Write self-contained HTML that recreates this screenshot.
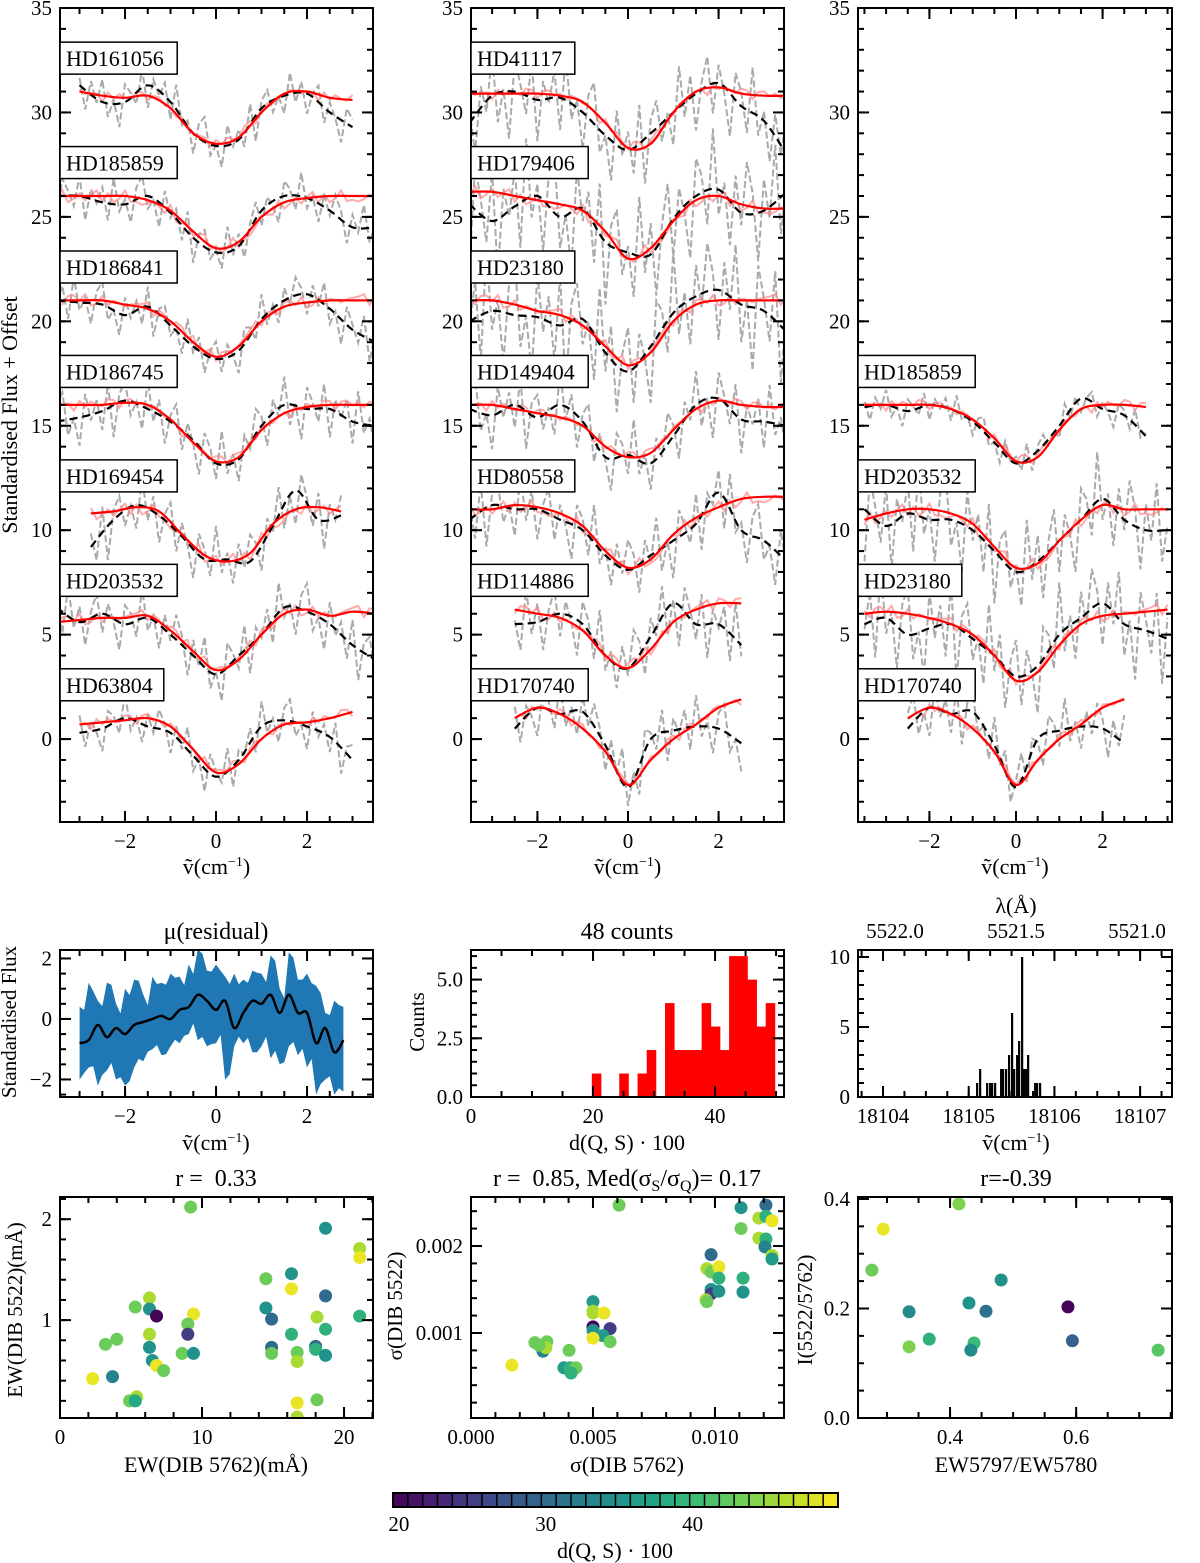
<!DOCTYPE html>
<html><head><meta charset="utf-8"><style>
html,body{margin:0;padding:0;background:#fff;}
svg{display:block;font-family:"Liberation Serif",serif;}
</style></head><body>
<svg id="fig" width="1200" height="1563" viewBox="0 0 1200 1563" xmlns="http://www.w3.org/2000/svg"></svg>
<script>
// ---------- DATA ----------
const noise=[0.3,-0.8,0.5,-0.2,0.9,-0.6,0.1,-1,0.7,0.2,-0.4,0.8,-0.9,0.4,-0.1,0.6,-0.7,1,-0.3,0.2,-0.8,0.5,0.9,-0.5,0,-0.9,0.7,-0.2,0.4,-0.6,0.8,-1,0.3,0.6,-0.4,0.1,-0.7,0.9,-0.3,0.5,-0.8,0.2,0.7,-0.6,0.4,-0.1,-0.9,0.6,0.3,-0.5,1,-0.4,0.2,-0.7,0.5,-0.2,0.8];
const starNames1=["HD161056","HD185859","HD186841","HD186745","HD169454","HD203532","HD63804"];
const starStart1=[-3,-3.5,-3.5,-3.5,-2.75,-3.5,-3];
const red1=[[31,30.8,30.7,30.8,30.2,29,28.5,28.8,30,30.9,31,30.7,30.6],
[26,26,26,26,25.8,25.3,24.3,23.5,23.8,25,25.7,25.9,26,26,26],
[21,21,21,20.8,20.6,20,19,18.3,18.8,20,20.7,20.9,21,21,21],
[16,16,16,16.1,16,15.3,14.2,13.3,13.5,14.8,15.6,15.9,16,16,16],
[10.8,10.9,11.1,10.9,9.8,8.8,8.5,8.9,10.3,11,11.1,10.9],
[5.6,5.7,5.8,5.8,5.9,5.2,4.2,3.3,3.8,5,6,6.2,5.9,6.1,6],
[0.7,0.8,0.9,1,0.6,-0.5,-1.6,-1.2,0,0.7,0.8,1,1.3]];
const black1=[[31.3,30.5,30.5,31.3,30.5,29,28.4,28.7,30.2,30.8,30.9,30,29.3],
[26,26,25.7,25.6,26,25.2,24,23.3,23.6,25.3,26,25.9,25.3,24.5,24.5],
[21,20.9,20.8,20.3,20.7,19.8,18.8,18.2,18.6,20.1,21,21.3,20.6,19.6,19],
[15.2,15.4,15.7,16.2,15.8,15.2,14.3,13.2,13.4,15,16,15.8,15.8,15.2,15],
[9.2,10.5,11.2,10.7,9.7,8.6,8.6,8.5,10.2,11.9,10.5,10.7],
[6.3,5.6,6,5.5,5.8,5,4,3.1,4,5,6.3,6.1,5.5,4.5,3.8],
[0.3,0.5,1,0.6,0.3,-0.8,-1.8,-1,0.6,0.9,0.6,0.1,-1]];
const starNames2=["HD41117","HD179406","HD23180","HD149404","HD80558","HD114886","HD170740"];
const starStart2=[-3.5,-3.5,-3.5,-3.5,-3.5,-2.5,-2.5];
const red2=[[30.9,30.9,30.9,30.9,30.8,30.5,29.5,28.3,28.5,30,31,31.2,30.9,30.8,30.8],
[26.2,26.2,26,25.8,25.6,25.3,24.3,23,23.5,24.8,25.8,26,25.6,25.4,25.4],
[21,21,20.8,20.5,20.3,19.8,18.8,17.9,18.5,20,20.8,21,21,21,21],
[16,16,15.8,15.6,15.4,15,14,13.5,13.7,14.8,15.8,16.2,16,15.9,15.9],
[11,11,11.2,11.1,10.8,10.2,9,8.2,8.6,9.8,10.6,11.1,11.5,11.6,11.6],
[6.2,6,5.8,5.2,4,3.4,4.3,5.6,6.2,6.5,6.5],
[1,1.5,1.2,0.5,-0.6,-2.2,-1,0,0.7,1.5,1.9]];
const black2=[[29.5,30.8,31,30.6,30.7,30,28.9,28.2,29,30,30.9,31.4,30.3,29.6,28],
[25.6,24.8,25.5,26,25,25.4,23.8,23.3,23.2,24.9,26,26.3,25.2,25.3,26.2],
[20,20.5,20.3,20.2,19.8,20.1,18.5,17.6,18.8,20.4,21.2,21.5,20.8,20.5,19.5],
[15.8,15.5,16,15.4,16,15.2,13.5,13.6,13.2,14.5,16,16.3,15.3,15.2,15],
[10.5,11.2,11,11,10.5,10,8.8,8.1,8.8,9.5,10.3,11.8,10,9.5,8.5],
[5.5,5.6,6,5.5,4,3.4,4.9,6.5,5.5,5.5,4.5],
[0.5,1.5,1.2,1.3,-0.3,-2.3,0,0.4,0.6,0.5,-0.2]];
const starNames3=["HD185859","HD203532","HD23180","HD170740"];
const starStart3=[-3.5,-3.5,-3.5,-2.5];
const red3=[[16,16,16,16,15.8,15.3,14.4,13.3,13.5,14.8,15.8,16,16,15.9],
[10.5,10.8,11,11,10.8,10.3,9.2,8.2,8.4,9.5,10.5,11.2,11,11,11],
[6,6.1,6,5.8,5.5,5,4,2.8,3.2,4.5,5.5,5.9,6,6.1,6.2],
[1,1.5,1.2,0.5,-0.6,-2.2,-1,0,0.7,1.5,1.9]];
const black3=[[15.9,16,15.7,16,15.8,15.2,14.2,13.2,13.8,15,16.3,15.8,15.5,14.5],
[11,10.2,10.8,10.5,10.5,10,9,8,8.5,9.5,10.5,11.5,10.5,10,10],
[5.5,5.8,5,5.3,5.5,4.8,4,3,3.5,5,5.8,6.5,5.5,5.2,4.8],
[0.5,1.5,1.2,1.3,-0.3,-2.3,0,0.4,0.6,0.5,-0.2]];
const grayAmp1=[1.2,1.2,1.2,1.5,1.6,1.5,1.2];
const grayAmp2=[2.2,3,3,1.8,1.8,1.8,1.5];
const grayAmp3=[0.8,2.5,2.5,1.5];
const labelY=[31.2,26.2,21.2,16.2,11.2,6.2,1.2];

const resMean=[-0.8,-0.7,-0.2,-0.6,-0.3,-0.5,-0.2,-0.1,0,0.1,0,0.3,0.4,0.8,0.6,0.3,0.6,-0.3,0.2,0.6,0.5,0.8,0.2,0.8,0.2,0.2,-0.8,-0.3,-1.1,-0.7];
const resUpper=[0.4,1.2,0.6,1.2,0.5,1.0,1.3,0.8,1.4,1.2,1.5,1.4,1.8,2.3,1.6,1.8,1.4,1.5,1.3,1.6,1.5,2.1,1.0,2.2,1.3,1.5,1.1,0.2,0.6,0.4];
const resLower=[-2.0,-1.6,-2.2,-1.7,-2.0,-2.2,-1.6,-1.4,-1.0,-1.2,-0.9,-0.8,-0.5,-0.7,-0.9,-0.8,-2.0,-0.9,-0.8,-1.1,-0.9,-1.3,-1.5,-0.9,-1.2,-1.6,-2.5,-2.0,-2.5,-2.4];
const resStart=-3, resStep=0.2;

const histEdges=[19.8,21.3,22.8,24.3,25.8,27.3,28.8,30.3,31.8,33.3,34.8,36.3,37.8,39.3,40.8,42.3,43.8,45.3,46.8,48.3];
const histCounts=[1,0,0,1,0,1,2,0,4,2,2,2,4,3,2,6,6,5,3,4];
const histWidth=1.5;

const wnOffsets=[1.097,1.132,1.214,1.249,1.272,1.307,1.377,1.400,1.435,1.470,1.505,1.529,1.564,1.587,1.622,1.645,1.669,1.692,1.774,1.797,1.832];
const wnCounts=[1,2,1,1,1,1,2,2,2,3,6,2,3,4,10,2,2,3,1,1,1];

const scA_x=[9.2,18.7,21.1,21.1,16.3,14.5,16.3,18.7,6.3,5.3,6.3,14.5,6.8,9.4,14.9,21.1,18.1,9.0,6.3,9.0,16.3,18.7,4.0,3.2,6.3,14.9,18.0,18.0,8.6,9.4,14.9,16.7,18.7,6.5,6.8,7.3,16.7,2.3,3.7,5.4,4.9,5.3,16.7,18.1,16.7];
const scA_y=[2.12,1.91,1.71,1.62,1.46,1.41,1.31,1.24,1.22,1.13,1.11,1.12,1.04,1.06,1.01,1.04,1.03,0.96,0.86,0.86,0.86,0.91,0.81,0.76,0.73,0.73,0.74,0.71,0.67,0.67,0.67,0.68,0.65,0.6,0.55,0.5,0.59,0.42,0.44,0.24,0.2,0.2,0.18,0.21,0.04];
const scA_c=[43,35,46,49,35,43,49,30,46,43,35,35,20,49,30,39,46,43,46,25,39,39,43,43,35,30,30,39,43,35,43,43,35,35,49,43,46,49,33,46,43,38,49,43,46];

const scB_x=[.00607,.01107,.01209,.0118,.01209,.01234,.01107,.0118,.01209,.01205,.01234,.01234,.00984,.00967,.00984,.01016,.01016,.01115,.00984,.00984,.01016,.00963,.00967,.01115,.005,.005,.005,.00545,.005,.005,.0057,.00541,.005,.0057,.00262,.00311,.00295,.00307,.00279,.00402,.00381,.00406,.0043,.0041,.00168];
const scB_y=[.00247,.00244,.00247,.00232,.00234,.00229,.0022,.00209,.00208,.00199,.00189,.00185,.0019,.00174,.0017,.00176,.00163,.00163,.0015,.00145,.00148,.00138,.00136,.00147,.00136,.00125,.00123,.00123,.00107,.00103,.00105,.00097,.00094,.0009,.00089,.0009,.00079,.00083,.00086,.0008,.0006,.0006,.0006,.00054,.00063];
const scB_c=[43,35,30,46,39,49,43,46,39,33,46,36,30,46,43,49,39,39,35,25,35,46,43,35,36,46,46,49,20,35,25,36,49,43,43,43,33,46,43,43,36,39,43,39,49];

const scC_x=[.414,.294,.276,.481,.430,.457,.335,.587,.367,.335,.438,.433,.594,.730];
const scC_y=[.391,.345,.27,.252,.21,.195,.194,.203,.144,.13,.137,.124,.141,.124];
const scC_c=[44,49,43,35,35,31,34,20,39,44,40,34,29,42];

// ---------- HELPERS ----------
const NS="http://www.w3.org/2000/svg";
const svg=document.getElementById('fig');
function el(tag,attrs,parent){const e=document.createElementNS(NS,tag);for(const k in attrs)e.setAttribute(k,attrs[k]);(parent||svg).appendChild(e);return e;}
function txt(x,y,s,opt,parent){opt=opt||{};const t=el('text',{x:x,y:y,'font-size':opt.size||21,'text-anchor':opt.anchor||'middle',fill:'#000'},parent);
 if(opt.rot)t.setAttribute('transform','rotate(-90 '+x+' '+y+')');t.innerHTML=s;return t;}
const vir=[[68,1,84],[72,36,117],[65,68,135],[53,95,141],[42,120,142],[33,145,140],[34,168,132],[68,191,112],[122,209,81],[189,223,38],[253,231,37]];
function viridis(t){t=Math.max(0,Math.min(1,t));const f=t*10,i=Math.min(9,Math.floor(f)),r=f-i;const a=vir[i],b=vir[i+1];
 return 'rgb('+a.map((v,k)=>Math.round(v+(b[k]-v)*r)).join(',')+')';}
function cmap(d){return viridis((d-19.6)/(49.9-19.6));}

function panel(o){
 const g=el('g',{});
 o.sx=v=>o.x0+(v-o.xmin)/(o.xmax-o.xmin)*(o.x1-o.x0);
 o.sy=v=>o.y1-(v-o.ymin)/(o.ymax-o.ymin)*(o.y1-o.y0);
 o.g=g;
 const clip=el('clipPath',{id:'c'+o.name},g);el('rect',{x:o.x0,y:o.y0,width:o.x1-o.x0,height:o.y1-o.y0},clip);
 o.inner=el('g',{'clip-path':'url(#c'+o.name+')'},g);
 o.finish=function(){
  const ax=el('g',{},g);
  el('rect',{x:o.x0,y:o.y0,width:o.x1-o.x0,height:o.y1-o.y0,fill:'none',stroke:'#000','stroke-width':2},ax);
  const tk=(x1,y1,x2,y2)=>el('line',{x1:x1,y1:y1,x2:x2,y2:y2,stroke:'#000','stroke-width':2},ax);
  function ticks(step,len,isX,lab){
   const lo=isX?o.xmin:o.ymin,hi=isX?o.xmax:o.ymax;
   let v=Math.ceil((lo-1e-9)/step)*step;
   for(;v<=hi+1e-9;v+=step){
    if(isX){const p=o.sx(v);tk(p,o.y1,p,o.y1-len);if(!o.noTopTicks)tk(p,o.y0,p,o.y0+len);
     if(lab)txt(p,o.y1+26,o.xfmt(v),{},ax);}
    else{const p=o.sy(v);tk(o.x0,p,o.x0+len,p);tk(o.x1,p,o.x1-len,p);
     if(lab)txt(o.x0-8,p+7,o.yfmt(v),{anchor:'end'},ax);}
   }
  }
  if(o.xminor)ticks(o.xminor,6,true,false);ticks(o.xmajor,11,true,true);
  if(o.yminor)ticks(o.yminor,6,false,false);ticks(o.ymajor,11,false,true);
 };
 return o;
}
function lerpArr(arr,start,step,x){const f=(x-start)/step;const i=Math.max(0,Math.min(arr.length-2,Math.floor(f)));const r=f-i;return arr[i]+(arr[i+1]-arr[i])*r;}
function smoothPath(pts){let d='M'+pts[0][0]+','+pts[0][1];
 for(let i=0;i<pts.length-1;i++){const p0=pts[Math.max(0,i-1)],p1=pts[i],p2=pts[i+1],p3=pts[Math.min(pts.length-1,i+2)];
  const c1=[p1[0]+(p2[0]-p0[0])/6,p1[1]+(p2[1]-p0[1])/6],c2=[p2[0]-(p3[0]-p1[0])/6,p2[1]-(p3[1]-p1[1])/6];
  d+=' C'+c1[0].toFixed(1)+','+c1[1].toFixed(1)+' '+c2[0].toFixed(1)+','+c2[1].toFixed(1)+' '+p2[0].toFixed(1)+','+p2[1].toFixed(1);}
 return d;}
const fmtInt=v=>{const r=Math.round(v);return r<0?'−'+(-r):''+r;};
const vLabel='ṽ(cm<tspan dy="-8" font-size="14">−1</tspan><tspan dy="8">)</tspan>';

// ---------- TOP PANELS ----------
function spectraPanel(name,x0,x1,zero,ppu,names,starts,reds,blacks,amps,slotOffset){
 const p=panel({name:name,x0:x0,x1:x1,y0:8,y1:822,xmin:(x0-zero)/ppu,xmax:(x1-zero)/ppu,ymin:-3.97,ymax:35,
  xmajor:2,xminor:0.5,ymajor:5,yminor:1,xfmt:fmtInt,yfmt:fmtInt});
 for(let s=0;s<names.length;s++){
  const st=starts[s],r=reds[s],b=blacks[s],n=r.length,end=st+(n-1)*0.5;
  const sg=el('g',{},p.inner);
  let gp=[],lr=[];let k=0;
  for(let x=st;x<=end+1e-9;x+=0.125,k++){
   const nz=noise[(k+s*7)%noise.length];
   gp.push([p.sx(x),p.sy(lerpArr(b,st,0.5,x)+nz*amps[s])]);
   lr.push([p.sx(x),p.sy(lerpArr(r,st,0.5,x)+noise[(k*3+s)%noise.length]*0.3)]);
  }
  const gl=el('path',{d:'M'+gp.map(q=>q[0].toFixed(1)+','+q[1].toFixed(1)).join(' L'),fill:'none',stroke:'#aaa','stroke-width':2,'stroke-dasharray':'7,3'},sg);
  
  const lrl=el('path',{d:'M'+lr.map(q=>q[0].toFixed(1)+','+q[1].toFixed(1)).join(' L'),fill:'none',stroke:'#f88','stroke-opacity':0.7,'stroke-width':2},sg);
  
  const bp=b.map((v,i)=>[p.sx(st+i*0.5),p.sy(v)]);
  const bl=el('path',{d:smoothPath(bp),fill:'none',stroke:'#000','stroke-width':2.2,'stroke-dasharray':'8,5'},sg);
  
  const rp=r.map((v,i)=>[p.sx(st+i*0.5),p.sy(v)]);
  const rl=el('path',{d:smoothPath(rp),fill:'none',stroke:'#f00','stroke-width':2.2},sg);
  
 }
 p.finish();
 for(let s=0;s<names.length;s++){
  const cy=p.sy(labelY[s+slotOffset]+1.4);
  const lg=el('g',{},p.g);
  el('rect',{x:x0,y:cy-16,width:names[s].length*13.4+10,height:32,fill:'#fff',stroke:'#000','stroke-width':1.5},lg);
  txt(x0+6,cy+8,names[s],{anchor:'start',size:22},lg);
 }
 txt((x0+x1)/2,874,vLabel,{size:22},p.g);
 return p;
}
spectraPanel('spectra-panel-1',60,373,216,45.5,starNames1,starStart1,red1,black1,grayAmp1,0);
spectraPanel('spectra-panel-2',471,784,628,45.3,starNames2,starStart2,red2,black2,grayAmp2,0);
spectraPanel('spectra-panel-3',858,1172,1016,43.3,starNames3,starStart3,red3,black3,grayAmp3,3);
txt(17,415,'Standardised Flux + Offset',{rot:true,size:22});

// ---------- MEAN RESIDUAL ----------
(function(){
 const p=panel({name:'residual-panel',x0:60,x1:373,y0:950,y1:1097,xmin:-3.43,xmax:3.45,ymin:-2.58,ymax:2.28,xmajor:2,xminor:0.5,ymajor:2,yminor:0.5,xfmt:fmtInt,yfmt:fmtInt});
 const up=[],lo=[];
 for(let i=0;i<resUpper.length;i++){
  const x=resStart+i*resStep;
  up.push([p.sx(x),p.sy(resUpper[i])]);up.push([p.sx(x+resStep/2),p.sy(resUpper[i]-0.35*Math.abs(noise[i]))]);
  lo.push([p.sx(x),p.sy(resLower[i])]);lo.push([p.sx(x+resStep/2),p.sy(resLower[i]+0.35*Math.abs(noise[i+5]))]);
 }
 up.pop();lo.pop();
 const band=el('path',{d:'M'+up.concat(lo.reverse()).map(q=>q[0].toFixed(1)+','+q[1].toFixed(1)).join(' L')+'Z',fill:'#1f77b4'},p.inner);
 
 const m=resMean.map((v,i)=>[p.sx(resStart+i*resStep),p.sy(v)]);
 const ml=el('path',{d:smoothPath(m),fill:'none',stroke:'#000','stroke-width':2.5},p.inner);
 
 p.finish();
 txt(216,939,'μ(residual)',{size:24},p.g);
 txt(216,1150,vLabel,{size:22},p.g);
 txt(16,1022,'Standardised Flux',{rot:true,size:21},p.g);
})();

// ---------- HISTOGRAM ----------
(function(){
 const p=panel({name:'distance-histogram',x0:471,x1:784,y0:950,y1:1097,xmin:0,xmax:51.3,ymin:0,ymax:6.26,xmajor:20,xminor:5,ymajor:2.5,yminor:0.5,
  xfmt:v=>''+Math.round(v),yfmt:v=>v.toFixed(1)});
 for(let i=0;i<histEdges.length;i++){if(!histCounts[i])continue;
  const r=el('rect',{x:p.sx(histEdges[i]),y:p.sy(histCounts[i]),width:p.sx(histEdges[i]+histWidth)-p.sx(histEdges[i])+0.4,height:p.sy(0)-p.sy(histCounts[i]),fill:'#f00'},p.inner);
  }
 p.finish();
 txt(627,939,'48 counts',{size:24},p.g);
 txt(627,1150,'d(Q, S) · 100',{size:22},p.g);
 txt(424,1022,'Counts',{rot:true,size:21},p.g);
})();

// ---------- WAVENUMBER HISTOGRAM ----------
(function(){
 const p=panel({name:'wavenumber-histogram',x0:858,x1:1172,y0:950,y1:1097,xmin:18103.708,xmax:18107.372,ymin:0,ymax:10.5,xmajor:1,xminor:0.25,ymajor:5,yminor:1,
  xfmt:v=>''+Math.round(v),yfmt:v=>''+Math.round(v)});
 for(let i=0;i<wnOffsets.length;i++){const x=18104+wnOffsets[i];
  const r=el('rect',{x:p.sx(x)-1,y:p.sy(wnCounts[i]),width:2.2,height:p.sy(0)-p.sy(wnCounts[i]),fill:'#000'},p.inner);
  }
 p.finish();
 const topTicks=[5522.0,5521.5,5521.0],topPx=[895,1016,1137];
 topTicks.forEach((v,i)=>txt(topPx[i],938,v.toFixed(1),{size:21},p.g));
 txt(1016,913,'λ(Å)',{size:22},p.g);
 txt(1016,1150,vLabel,{size:22},p.g);
})();

// ---------- SCATTERS ----------
function scatter(o,xs,ys,cs){
 const p=panel(o);
 for(let i=0;i<xs.length;i++){
  const c=el('circle',{cx:p.sx(xs[i]),cy:p.sy(ys[i]),r:6.5,fill:cmap(cs[i])},p.inner);
  }
 p.finish();return p;
}
(function(){
 const p=scatter({name:'ew-scatter',x0:60,x1:373,y0:1197,y1:1418,xmin:0,xmax:22.04,ymin:0.03,ymax:2.22,xmajor:10,xminor:2,ymajor:1,yminor:0.2,
  xfmt:v=>''+Math.round(v),yfmt:v=>''+Math.round(v)},scA_x,scA_y,scA_c);
 txt(216,1186,'r =&#160; 0.33',{size:24},p.g);
 txt(216,1472,'EW(DIB 5762)(mÅ)',{size:22},p.g);
 txt(22,1310,'EW(DIB 5522)(mÅ)',{rot:true,size:21},p.g);
})();
(function(){
 const p=scatter({name:'sigma-scatter',x0:471,x1:784,y0:1197,y1:1418,xmin:0,xmax:0.01283,ymin:0.000023,ymax:0.002563,xmajor:0.005,xminor:0.001,ymajor:0.001,yminor:0.0002,
  xfmt:v=>v.toFixed(3),yfmt:v=>v.toFixed(3)},scB_x,scB_y,scB_c);
 txt(627,1186,'r =&#160; 0.85, Med(σ<tspan dy="5" font-size="16">S</tspan><tspan dy="-5">/σ</tspan><tspan dy="5" font-size="16">Q</tspan><tspan dy="-5">)= 0.17</tspan>',{size:24},p.g);
 txt(627,1472,'σ(DIB 5762)',{size:22},p.g);
 txt(402,1306,'σ(DIB 5522)',{rot:true,size:21},p.g);
})();
(function(){
 const p=scatter({name:'ratio-scatter',x0:858,x1:1172,y0:1197,y1:1418,xmin:0.254,xmax:0.752,ymin:0,ymax:0.4036,xmajor:0.2,xminor:0.05,ymajor:0.2,yminor:0.05,
  xfmt:v=>v.toFixed(1),yfmt:v=>v.toFixed(1)},scC_x,scC_y,scC_c);
 txt(1016,1186,'r=-0.39',{size:24},p.g);
 txt(1016,1472,'EW5797/EW5780',{size:22},p.g);
 txt(812,1310,'I(5522/5762)',{rot:true,size:21},p.g);
})();

// ---------- COLORBAR ----------
(function(){
 const g=el('g',{});
 const x0=393,x1=838,y0=1493,y1=1507,dmin=19.6,dmax=49.9,n=30;
 for(let i=0;i<n;i++){const a=x0+(x1-x0)*i/n;el('rect',{x:a,y:y0,width:(x1-x0)/n+0.5,height:y1-y0,fill:viridis((i+0.5)/n)},g);
  el('line',{x1:a,y1:y0,x2:a,y2:y1,stroke:'#000','stroke-width':1.5},g);}
 el('rect',{x:x0,y:y0,width:x1-x0,height:y1-y0,fill:'none',stroke:'#000','stroke-width':2},g);
 [20,30,40].forEach(v=>{const px=x0+(v-dmin)/(dmax-dmin)*(x1-x0);txt(px,1531,''+v,{size:21},g);});
 txt(615,1558,'d(Q, S) · 100',{size:22},g);
})();
</script>
</body></html>
